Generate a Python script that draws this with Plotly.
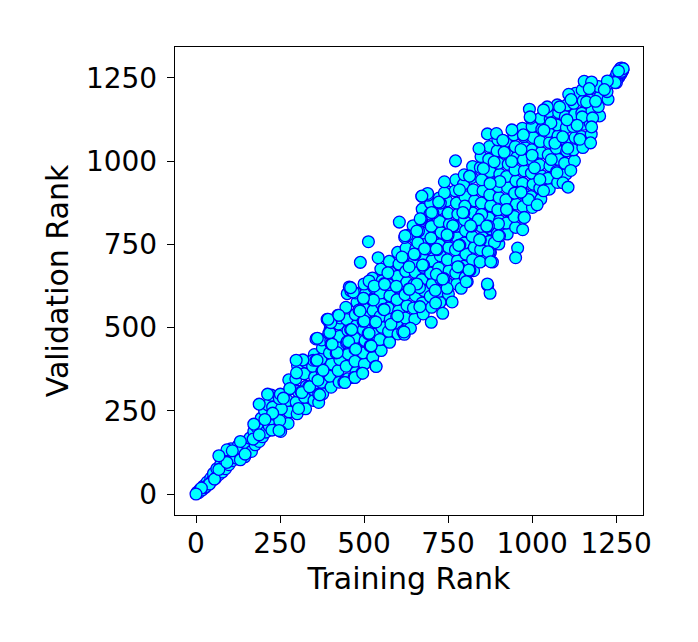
import plotly.graph_objects as go

# Points: under-layer first, upper-layer last.
under_train = [
 3,8,12,18,22,28,33,38,44,48,52,58,62,68,74,78,84,88,94,98,104,108,115,120,126,130,138,145,150,156,160,165,172,176,182,188,194,198,204,208,214,218,
 226,223,228,224,231, 274,277,272,279,276, 252,249,254,248,251,
 301,298,303,297,302, 326,323,328,322,327, 351,348,353,347,352,349,
 377,373,378,372,376,374, 402,398,403,397,401,399,
 426,423,428,422,427,424,429, 451,447,453,448,452,449,446,450,
 476,473,478,472,477,474,479,475, 501,497,503,498,502,499,504,500,
 526,523,528,522,527,524,529,525, 551,547,553,548,552,549,554,550,
 576,573,578,572,577,574,579,575, 601,597,603,598,602,599,604,600,
 626,623,628,622,627,624,629,625,621, 651,647,653,648,652,649,654,650,646,
 676,673,678,672,677,674,679,675,671,673, 701,697,703,698,702,699,704,700,696,698,
 726,723,728,722,727,724,729,725,721,723, 751,747,753,748,752,749,754,750,746,748,
 776,773,778,772,777,774,779,775,771,773, 801,797,803,798,802,799,804,800,796,798,
 826,823,828,822,827,824,829,825,821,823, 851,847,853,848,852,849,854,850,846,848,
 876,873,878,872,877,874,879,875,871,873, 901,897,903,898,902,899,904,900,896,898,
 926,923,928,922,927,924,929,925,921, 951,947,953,948,952,949,954,950,946,
 976,973,978,972,977,974,979,975,971, 1001,997,1003,998,1002,999,1004,1000,996,
 1026,1023,1028,1022,1027,1024,1029,1025, 1051,1047,1053,1048,1052,1049,1054,1050,
 1076,1073,1078,1072,1077,1074,1079,1075, 1101,1097,1103,1098,1102,1099,1104,
 1126,1123,1128,1122,1127,1124,1129, 1151,1147,1153,1148,1152,1149,
 1176,1173,1178,1172,1177, 1201,1197,1203,1198, 1226,1223,1228, 1251,1247,1252,
 1258,1261,1264,1266,1268,1270,1262,
]
under_val = [
 5,4,14,12,24,20,36,30,48,40,62,48,76,58,90,66,104,76,124,88,136,100,118,108,146,122,134,112,150,136,168,128,188,148,200,158,228,172,250,186,268,204,
 192,226,261,297,240, 212,247,281,316,343, 188,221,256,287,300,
 241,276,309,346,386, 256,291,324,361,397, 281,314,351,384,419,402,
 301,336,369,406,439,463, 321,354,391,424,461,496,
 336,371,404,441,474,511,529, 346,384,421,454,491,524,561,602,
 366,399,436,469,506,539,576,604, 391,424,461,494,531,564,601,631,
 411,444,481,514,551,584,621,649, 431,464,501,534,571,604,641,676,
 456,489,526,559,596,629,666,699, 481,514,551,584,621,654,691,726,
 496,529,566,599,636,669,706,739,771, 526,559,596,629,666,699,736,769,806,
 541,574,611,644,681,714,751,784,821,856, 561,594,631,664,701,734,771,804,841,874,
 576,609,646,679,716,749,786,819,856,889, 601,634,671,704,741,774,811,844,881,909,
 631,664,701,734,771,804,841,874,911,944, 651,684,721,754,791,824,861,894,931,959,
 671,704,741,774,811,844,881,914,951,984, 701,734,771,804,841,874,911,944,981,1014,
 726,759,796,829,866,899,936,969,1006,1044, 751,784,821,854,891,924,961,994,1031,1064,
 781,814,851,884,921,954,991,1024,1059, 801,834,871,904,941,974,1011,1044,1079,
 831,864,901,934,971,1004,1041,1074,1099, 861,894,931,964,1001,1034,1071,1104,1129,
 886,919,956,989,1026,1059,1096,1129, 916,949,986,1019,1056,1089,1126,1149,
 936,969,1006,1039,1076,1109,1146,1169, 961,994,1031,1064,1101,1134,1169,
 1001,1034,1071,1104,1141,1174,1204, 1041,1074,1111,1144,1181,1214,
 1081,1114,1151,1184,1219, 1136,1164,1196,1224, 1186,1209,1234, 1236,1251,1263,
 1252,1258,1262,1266,1270,1274,1278,
]
upper_train = [
 605,513,489,542,670,705,727,690,672,739,797,800,843,850,925,900,903,870,820,765,750,785,846,888,873,882,845,815,807,789,782,738,747,762,734,700,713,712,666,634,596,560,571,613,652,677,718,685,660,628,662,715,665,523,461,456,515,530,498,485,422,390,398,357,395,460,497,530,558,597,580,512,518,473,417,402,450,357,375,440,493,535,470,335,365,313,615,620,638,868,875,
 1268,1270,1265,1267,1271,1257,1247,1224,1215,1155,1177,1170,1162,1189,1109,1116,1082,1045,1034,992,994,1056,1104,1149,1180,1177,1134,1142,1174,1106,1068,1091,1035,974,940,867,894,913,842,772,917,967,1000,1057,887,939,855,1007,1115,1074,1092,1107,1023,1034,904,875,814,739,784,689,672,722,701,667,794,840,924,989,1015,967,977,972,900,865,817,764,747,699,657,622,844,782,715,680,649,957,951,869,877,812,779,734,674,634,867,804,657,
 28,40,16,55,68,92,132,132,170,247,228,205,305,365,368,315,279,260,213,338,363,299,378,360,318,298,443,473,496,536,420,405,361,398,401,393,425,454,475,521,515,463,500,535,488,560,600,619,528,498,468,460,561,635,92,68,146,108,188,172,188,0,
]
upper_val = [
 817,758,696,710,826,845,874,898,894,905,845,865,824,840,855,812,775,805,805,805,778,748,763,755,727,697,697,672,638,618,682,647,618,577,543,516,574,612,563,616,624,632,665,712,720,688,734,736,755,777,790,660,620,584,610,622,640,625,588,553,537,525,513,466,483,494,519,518,555,533,510,482,445,436,424,450,458,402,369,336,363,384,350,322,300,307,488,480,498,627,603,
 1279,1275,1280,1270,1278,1271,1236,1241,1215,1240,1238,1218,1178,1180,1201,1185,1163,1163,1154,1156,1133,1115,1124,1133,1130,1103,1108,1066,1055,1039,1054,1073,1093,1079,1094,1082,1083,1063,1038,1001,1027,1035,1018,1005,998,999,978,980,972,965,935,922,945,911,939,933,955,938,914,903,895,877,846,827,846,825,855,885,869,907,831,794,776,805,806,806,779,769,790,776,764,747,736,737,721,739,710,728,698,673,683,646,688,683,631,638,631,
 22,30,18,45,74,95,103,158,165,191,243,224,257,275,298,305,317,288,300,322,342,364,372,402,403,402,335,350,363,383,425,450,468,485,515,525,537,458,435,445,483,494,520,517,550,554,535,487,583,588,607,620,630,615,133,115,120,130,178,210,270,0,
]

train_rank = under_train + upper_train
val_rank = under_val + upper_val

x_ticks = [0, 250, 500, 750, 1000, 1250]
y_ticks = [0, 250, 500, 750, 1000, 1250]

fig = go.Figure(go.Scatter(
    x=train_rank, y=val_rank, mode="markers",
    marker=dict(size=11.8, color="#00ffff", line=dict(color="#0000ff", width=1.3)),
))

axis_common = dict(
    showgrid=False, zeroline=False, showline=True, mirror=True,
    linecolor="black", linewidth=1.4, ticks="outside", ticklen=7,
    tickwidth=1.4, tickcolor="black",
    tickfont=dict(family="DejaVu Sans", size=28, color="black"),
)
fig.update_xaxes(range=[-62.5, 1330], tickvals=x_ticks, ticktext=[str(v) for v in x_ticks],
                 ticklabelstandoff=-4,
                 title=dict(text="Training Rank", font=dict(family="DejaVu Sans", size=30, color="black"), standoff=9),
                 **axis_common)
fig.update_yaxes(range=[-63, 1343], tickvals=y_ticks, ticktext=[str(v) for v in y_ticks],
                 ticklabelstandoff=4,
                 title=dict(text="Validation Rank", font=dict(family="DejaVu Sans", size=30, color="black"), standoff=8),
                 **axis_common)
fig.update_layout(
    width=698, height=642, autosize=False, showlegend=False,
    paper_bgcolor="white", plot_bgcolor="white",
    margin=dict(l=167, r=63, t=39, b=135, pad=0),
)
fig.write_html("out.html")
